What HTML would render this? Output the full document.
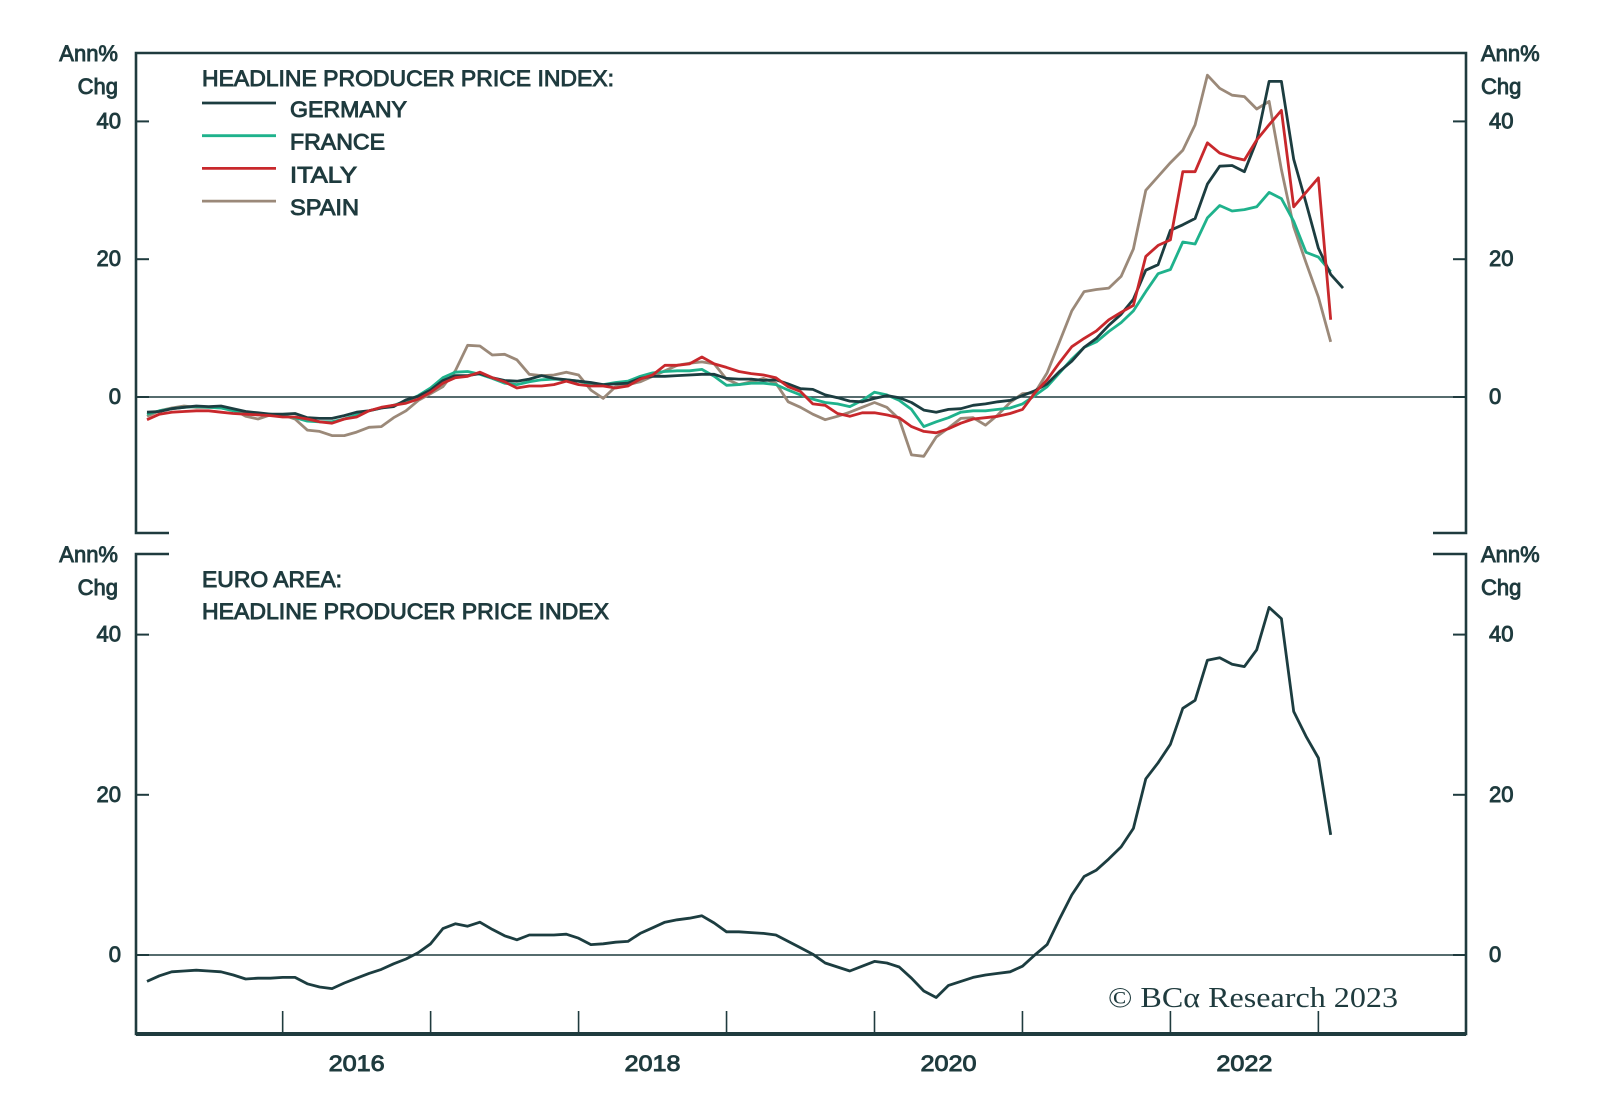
<!DOCTYPE html>
<html><head><meta charset="utf-8"><style>
html,body{margin:0;padding:0;background:#fff;}
svg{display:block;}
text{font-family:"Liberation Sans",sans-serif;fill:#1f3b3e;}
.lab{font-size:22px;stroke:#1f3b3e;stroke-width:0.9px;}
</style></head><body>
<svg id="chart" width="1600" height="1105" viewBox="0 0 1600 1105" xmlns="http://www.w3.org/2000/svg"></svg>
<script>
const germany=[-2.2,-2.1,-1.7,-1.5,-1.3,-1.4,-1.3,-1.7,-2.1,-2.3,-2.5,-2.5,
-2.4,-3.0,-3.1,-3.1,-2.7,-2.2,-2.0,-1.6,-1.4,-0.4,0.1,1.0,
2.4,3.1,3.1,3.4,2.8,2.4,2.3,2.6,3.1,2.7,2.5,2.3,
2.1,1.8,1.9,2.0,2.7,3.0,3.0,3.1,3.2,3.3,3.3,2.7,
2.6,2.6,2.4,2.5,1.9,1.2,1.1,0.3,-0.1,-0.6,-0.7,-0.2,
0.2,-0.1,-0.8,-1.9,-2.2,-1.8,-1.7,-1.2,-1.0,-0.7,-0.5,0.2,
0.9,1.9,3.7,5.2,7.2,8.5,10.4,12.0,14.2,18.4,19.2,24.2,
25.0,25.9,30.9,33.5,33.6,32.7,37.2,45.8,45.8,34.5,28.2,21.6,
17.8,15.8];
const france=[-2.5,-2.0,-1.7,-1.5,-1.4,-1.5,-1.6,-2.0,-2.4,-2.6,-2.5,-2.7,
-3.0,-3.5,-3.6,-3.6,-3.2,-2.6,-2.0,-1.6,-1.2,-0.6,0.2,1.3,
2.8,3.6,3.7,3.3,2.7,2.0,1.8,2.2,2.5,2.6,2.5,2.3,
1.9,1.8,2.1,2.3,3.0,3.5,3.7,3.8,3.8,4.0,3.0,1.7,
1.8,2.0,2.0,1.8,1.0,0.3,-0.3,-0.8,-1.0,-1.4,-0.5,0.7,
0.3,-0.5,-1.8,-4.3,-3.6,-3.0,-2.2,-2.0,-2.0,-1.8,-1.6,-1.0,
0.2,1.5,3.5,5.5,7.2,8.0,9.5,10.8,12.5,15.3,17.9,18.5,
22.5,22.2,26.0,27.8,27.0,27.2,27.6,29.7,28.8,25.5,21.0,20.3,18.2];
const italy=[-3.3,-2.5,-2.2,-2.1,-2.0,-2.0,-2.2,-2.4,-2.5,-2.6,-2.7,-2.9,
-2.9,-3.2,-3.6,-3.8,-3.2,-2.9,-2.0,-1.5,-1.2,-0.9,-0.3,0.7,
2.0,2.8,3.0,3.6,2.8,2.2,1.3,1.6,1.6,1.8,2.3,1.8,
1.6,1.6,1.3,1.6,2.6,3.2,4.6,4.6,4.8,5.8,4.8,4.3,
3.7,3.4,3.2,2.8,1.5,0.8,-1.0,-1.2,-2.4,-2.8,-2.3,-2.3,
-2.6,-3.0,-4.3,-5.0,-5.2,-4.6,-3.8,-3.2,-3.0,-2.8,-2.4,-1.8,
0.6,2.5,5.0,7.3,8.5,9.6,11.2,12.3,13.3,20.4,22.0,22.8,
32.7,32.7,36.9,35.4,34.8,34.4,37.3,39.5,41.6,27.6,29.7,31.8,11.2];
const spain=[-2.8,-2.0,-1.6,-1.3,-1.5,-1.5,-1.6,-1.8,-2.8,-3.2,-2.6,-2.6,
-3.2,-4.8,-5.0,-5.6,-5.6,-5.1,-4.4,-4.3,-3.0,-2.0,-0.5,0.5,
1.5,3.8,7.5,7.4,6.1,6.2,5.4,3.3,3.1,3.2,3.6,3.2,
1.0,-0.2,1.5,1.8,2.2,3.0,3.8,4.6,4.9,5.1,4.8,2.6,
1.8,2.2,2.7,2.0,-0.7,-1.5,-2.5,-3.3,-2.8,-2.2,-1.5,-0.8,
-1.5,-3.2,-8.4,-8.6,-5.8,-4.5,-3.1,-3.0,-4.1,-2.6,-0.8,0.5,
0.6,3.5,8.0,12.5,15.3,15.6,15.8,17.5,21.5,30.0,32.0,34.0,
35.8,39.5,46.7,44.8,43.8,43.6,41.8,42.9,33.0,24.7,19.5,14.5,8.0];
const euro=[-3.3,-2.6,-2.1,-2.0,-1.9,-2.0,-2.1,-2.5,-3.0,-2.9,-2.9,-2.8,
-2.8,-3.6,-4.0,-4.2,-3.5,-2.9,-2.3,-1.8,-1.1,-0.5,0.3,1.4,
3.3,3.9,3.6,4.1,3.2,2.4,1.9,2.5,2.5,2.5,2.6,2.1,
1.3,1.4,1.6,1.7,2.7,3.4,4.1,4.4,4.6,4.9,4.0,2.9,
2.9,2.8,2.7,2.5,1.7,0.9,0.1,-1.0,-1.5,-2.0,-1.4,-0.8,
-1.0,-1.5,-2.9,-4.5,-5.3,-3.8,-3.3,-2.8,-2.5,-2.3,-2.1,-1.4,
0.0,1.3,4.5,7.5,9.8,10.6,12.0,13.5,15.8,22.0,24.0,26.3,
30.8,31.8,36.8,37.1,36.3,36.0,38.1,43.4,42.0,30.4,27.3,24.6,15.0];
const yTicks=[0,20,40];
const yearLabels=["2016","2018","2020","2022"];
const yearTicks=[2016,2017,2018,2019,2020,2021,2022,2023];

const NS="http://www.w3.org/2000/svg";
const svg=document.getElementById('chart');
const INK="#1f3b3e";
const L=136,R=1466;
const xS=m=>134.7+12.33*m;
const yTop=v=>397-v*6.89;
const yBot=v=>955-v*8.01;
function el(tag,attrs,parent){const e=document.createElementNS(NS,tag);for(const k in attrs)e.setAttribute(k,attrs[k]);(parent||svg).appendChild(e);return e;}
function txt(s,x,y,anchor,cls,tl){const t=el('text',{x:x,y:y,'text-anchor':anchor||'start','class':cls||'lab'});if(tl){t.setAttribute('textLength',tl);t.setAttribute('lengthAdjust','spacingAndGlyphs');}t.textContent=s;return t;}

const fr=el('g',{});


el('path',{d:`M${L+33},533 H${L} V53 H${R} V533 H${R-33}`,fill:'none',stroke:INK,'stroke-width':2.6},fr);
const fb=el('g',{});


el('path',{d:`M${L+33},554 H${L} V1034 H${R} V554 H${R-33}`,fill:'none',stroke:INK,'stroke-width':2.6},fb);
el('line',{x1:L,x2:R,y1:1034,y2:1034,stroke:INK,'stroke-width':4},fb);

[[yTop,'top'],[yBot,'bottom']].forEach(([ys,nm])=>{
  const z=el('line',{x1:L,x2:R,y1:ys(0),y2:ys(0),stroke:INK,'stroke-width':1.6});
  
  
  yTicks.forEach(v=>{
    el('line',{x1:L,x2:L+13,y1:ys(v),y2:ys(v),stroke:INK,'stroke-width':2});
    el('line',{x1:R-13,x2:R,y1:ys(v),y2:ys(v),stroke:INK,'stroke-width':2});
    const a=txt(String(v),121,ys(v)+7,'end');
    
    
    const b=txt(String(v),1489,ys(v)+7,'start');
    
    
  });
});
[[61,94],[562,595]].forEach(([a,b],i)=>{
  const nm=i?'bottom':'top';
  let t=txt('Ann%',118,a,'end');
  t=txt('Chg',118,b,'end');
  t=txt('Ann%',1481,a,'start');
  t=txt('Chg',1481,b,'start');
});
yearTicks.forEach(y=>{
  const m=(y-2015)*12;
  const t=el('line',{x1:xS(m),x2:xS(m),y1:1011,y2:1034,stroke:INK,'stroke-width':1.6});
  
  
});
yearLabels.forEach(s=>{
  const m=(+s-2015)*12+6;
  const t=txt(s,xS(m),1071,'middle','lab',56);
  
  
});

function line(arr,ys,color,name,w){
  const d=arr.map((v,i)=>(i?'L':'M')+xS(i+1).toFixed(1)+','+ys(v).toFixed(1)).join(' ');
  const p=el('path',{d:d,fill:'none',stroke:color,'stroke-width':w||2.8,'stroke-linejoin':'round'});
  
  
}
const COLORS={germany:'#1c3d40',france:'#1fb28c',italy:'#c8282c',spain:'#9b8979'};
line(spain,yTop,COLORS.spain,'spain-line');
line(france,yTop,COLORS.france,'france-line');
line(germany,yTop,COLORS.germany,'germany-line');
line(italy,yTop,COLORS.italy,'italy-line');
line(euro,yBot,COLORS.germany,'euro-area-line',2.8);

let t=txt('HEADLINE PRODUCER PRICE INDEX:',202,86,'start','lab',412);


[['GERMANY',COLORS.germany,117],['FRANCE',COLORS.france,95],['ITALY',COLORS.italy,67],['SPAIN',COLORS.spain,69]].forEach(([n,c,w],i)=>{
  const cy=109+i*32.7;
  const g=el('g',{});
  
  
  el('line',{x1:202,x2:276,y1:cy-6,y2:cy-6,stroke:c,'stroke-width':2.8},g);
  const tt=txt(n,290,cy+8,'start','lab',w);g.appendChild(tt);
});
t=txt('EURO AREA:',202,587,'start','lab',140);


t=txt('HEADLINE PRODUCER PRICE INDEX',202,619,'start','lab',407);


t=el('text',{x:1108,y:1007,'font-size':29,'textLength':290,'lengthAdjust':'spacingAndGlyphs',style:'font-family:"Liberation Serif",serif;fill:#1f3b3e'});
t.textContent='© BCα Research 2023';


</script>
</body></html>
